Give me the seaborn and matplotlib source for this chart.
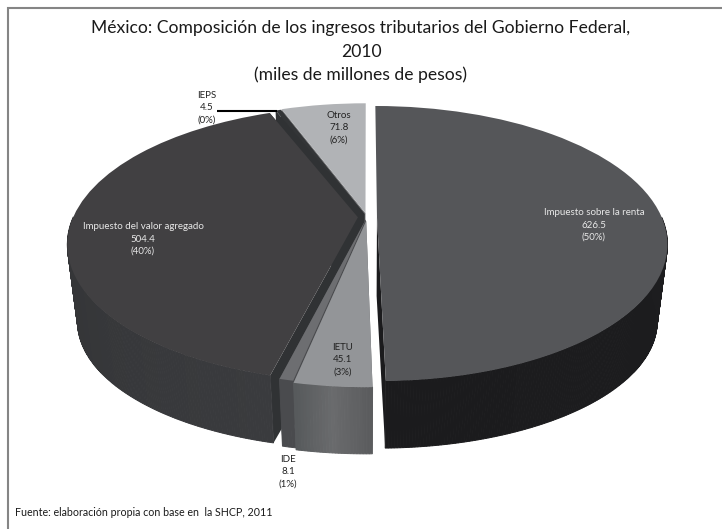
import numpy as np
import matplotlib
matplotlib.use('Agg')
import matplotlib.pyplot as plt
from matplotlib.transforms import Transform
import seaborn as sns

# Datos (orden de las manecillas desde arriba)
conceptos = ['Impuesto sobre la renta', 'IETU', 'IDE', 'Impuesto del valor agregado', 'IEPS', 'Otros']
montos = [626.5, 45.1, 8.1, 504.4, 4.5, 71.8]
porcentajes = [50, 3, 1, 40, 0, 6]

# Estilo
explode = [0.035, 0.03, 0.02, 0.032, 0.025, 0.03]
color_top = ['#555659', '#939598', '#6d6e71', '#414042', '#333537', '#b1b3b6']
color_wall = ['#1b1b1d', '#606163', '#4a4b4e', '#303234', '#303234', '#747577']
color_rim = [['#1b1b1d', '#1d1d1f', '#2b2b2d'],
             ['#575a5c', '#6a6b6d', '#5b5c5e'],
             ['#4a4b4e', '#4a4b4e'],
             ['#2c2d2f', '#333436', '#3a3b3e'],
             ['#303234', '#303234'],
             ['#747577', '#747577']]
draw_order = [5, 4, 3, 0, 2, 1]
label_pos = [(594, 225), (343, 360), (288, 472), (143, 239), (207, 108), (339, 128)]
label_color = ['#e8e8e8', '#222222', '#222222', '#e8e8e8', '#222222', '#222222']

# Perspectiva de la tarta (en pixeles)
CX, CY, RX, RY, K = 367, 217, 284.6, 132.4, 0.193


def project(u, v, z=0.0):
    w = 1 + K * v
    x = CX + RX * (1 - 0.034 * z) * u / w
    y = CY + 79 * z - (RY - 9.6 * z) * v / w
    return x, y


class Tilt(Transform):
    input_dims = 2
    output_dims = 2
    is_separable = False
    has_inverse = False

    def transform_non_affine(self, values):
        x, y = project(values[:, 0], values[:, 1])
        return np.column_stack([x, y])


sns.set_theme(style='white')
plt.rcParams['font.family'] = ['Lato', 'DejaVu Sans']

fig = plt.figure(figsize=(7.22, 5.29), dpi=100, facecolor='white')
ax = fig.add_axes([0, 0, 1, 1])
wedges, _ = ax.pie(montos, startangle=90, counterclock=False, explode=explode,
                   colors=color_top, wedgeprops={'linewidth': 0})
ax.set_aspect('auto')
ax.set_xlim(0, 722)
ax.set_ylim(529, 0)
ax.axis('off')

zorder = 2
for i in draw_order:
    wedge = wedges[i]
    cu, cv = wedge.center
    # paredes de corte (la de arriba no se ve)
    for theta in (wedge.theta1, wedge.theta2):
        if np.isclose(theta % 360, 90):
            continue
        eu = cu + np.cos(np.radians(theta))
        ev = cv + np.sin(np.radians(theta))
        p1 = project(cu, cv, 0)
        p2 = project(eu, ev, 0)
        p3 = project(eu, ev, 1)
        p4 = project(cu, cv, 1)
        ax.fill([p1[0], p2[0], p3[0], p4[0]], [p1[1], p2[1], p3[1], p4[1]],
                color=color_wall[i], lw=0, zorder=zorder)
    zorder += 1
    # borde exterior con degradado, solo la parte de enfrente
    n = max(int((wedge.theta2 - wedge.theta1) / 0.5), 2)
    angles = np.radians(np.linspace(wedge.theta1, wedge.theta2, n + 1))
    shades = sns.blend_palette(color_rim[i], n_colors=n)
    for j in range(n):
        a = angles[j:j + 2]
        ru = cu + np.cos(a)
        rv = cv + np.sin(a)
        if rv.mean() > 0:
            continue
        xt, yt = project(ru, rv, 0)
        xb, yb = project(ru, rv, 1)
        ax.fill([xt[0], xt[1], xb[1], xb[0]], [yt[0], yt[1], yb[1], yb[0]],
                color=shades[j], lw=0.7, zorder=zorder)
        zorder += 0.001
    zorder = int(zorder) + 1
    wedge.set_transform(Tilt() + ax.transData)
    wedge.set_zorder(zorder)
    zorder += 1

# Etiquetas
for nombre, monto, pct, pos, col in zip(conceptos, montos, porcentajes, label_pos, label_color):
    ax.text(pos[0], pos[1], f'{nombre}\n{monto}\n({pct}%)', ha='center', va='center',
            fontsize=7, color=col, linespacing=1.45, zorder=50)

ax.plot([217, 277], [111, 111], color='black', lw=1.5, zorder=49, solid_capstyle='butt')

# Titulo
ax.text(361, 28, 'México: Composición de los ingresos tributarios del Gobierno Federal,',
        ha='center', va='center', fontsize=12.6, color='#1a1a1a')
ax.text(361, 52, '2010', ha='center', va='center', fontsize=12.6, color='#1a1a1a')
ax.text(361, 75, '(miles de millones de pesos)', ha='center', va='center', fontsize=12.6, color='#1a1a1a')

ax.text(15, 513, 'Fuente: elaboración propia con base en  la SHCP, 2011', ha='left', va='center',
        fontsize=7.7, color='#1a1a1a')

# Marco (solo arriba e izquierda)
ax.plot([7.5, 7.5, 722], [529, 7.5, 7.5], color='#858585', lw=1.5, zorder=60, clip_on=False,
        solid_joinstyle='miter')

fig.savefig('out.png', dpi=100)
